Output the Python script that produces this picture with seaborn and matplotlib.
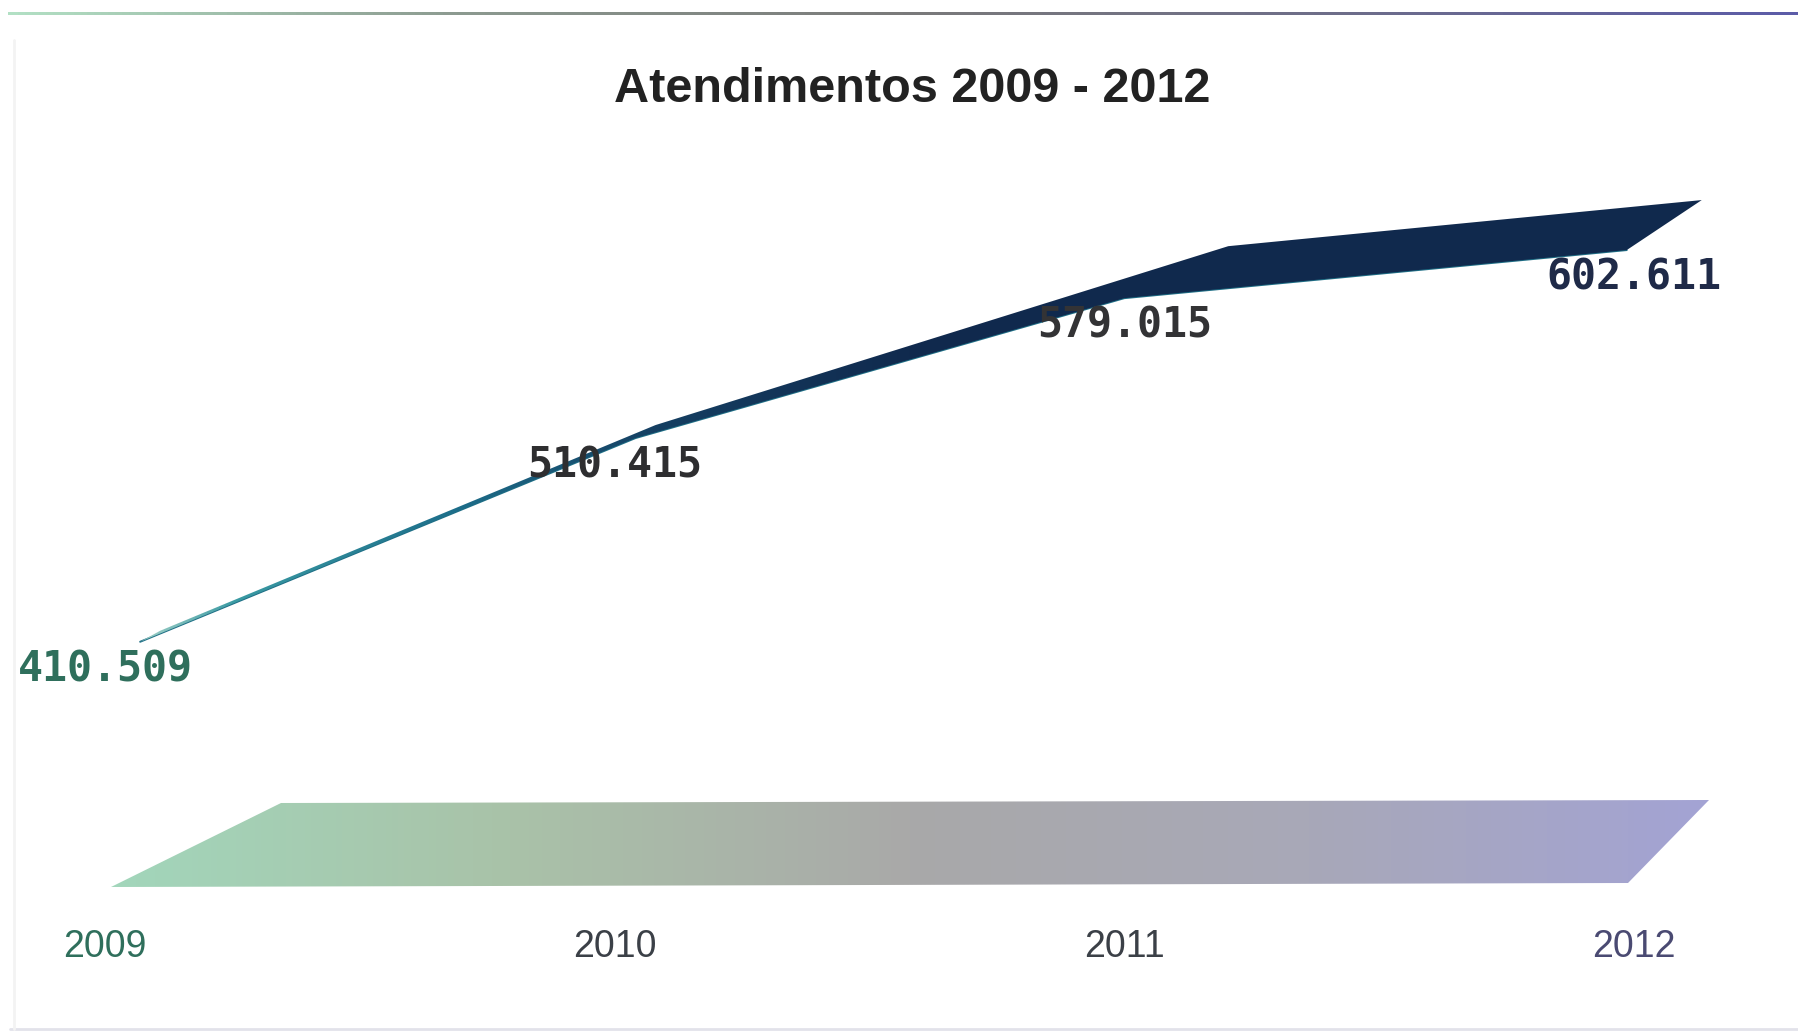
import numpy as np
import pandas as pd
import matplotlib
matplotlib.use('Agg')
import matplotlib.pyplot as plt
import seaborn as sns
from matplotlib.colors import LinearSegmentedColormap
from matplotlib.patches import Polygon
from matplotlib.lines import Line2D

# data
anos = ['2009', '2010', '2011', '2012']
atendimentos = [410509, 510415, 579015, 602611]

# colours of the texts
cor_rotulos = ['#2f6f5c', '#2e2e30', '#333335', '#1f2a48']
cor_anos = ['#2f6f5c', '#3b4047', '#3b4047', '#4a4a72']

# fake 3d look: shift of the ribbon front edge (categories) and depth (pixels)
x_shift = [0.069, 0.041, 0.0, -0.014]
depth_px = [(20, 11), (20, 13), (104, 52), (75, 50)]

sns.set_theme(style='white')
plt.rcParams['font.family'] = ['Liberation Sans', 'DejaVu Sans']

W, H = 1798, 1032
fig = plt.figure(figsize=(W / 100, H / 100), dpi=100)
fig.patch.set_facecolor('white')
ax = fig.add_axes([0, 0, 1, 1])
xlim = (-0.206, 3.322)
ylim = (219130, 725250)
ax.set_xlim(*xlim)
ax.set_ylim(*ylim)
ax.axis('off')

df = pd.DataFrame({'ano': anos, 'atendimentos': atendimentos})
df['pos'] = np.arange(len(df))
df['x_front'] = df['pos'] + np.array(x_shift)

to_data = ax.transData.inverted()


def gradient_fill(pts, cmap, zorder):
    x0, x1 = pts[:, 0].min(), pts[:, 0].max()
    y0, y1 = pts[:, 1].min(), pts[:, 1].max()
    im = ax.imshow(np.linspace(0, 1, 512)[None, :], extent=[x0, x1, y0, y1],
                   aspect='auto', cmap=cmap, origin='lower', zorder=zorder)
    clip = Polygon(pts, closed=True, facecolor='none', edgecolor='none',
                   transform=ax.transData)
    ax.add_patch(clip)
    im.set_clip_path(clip)


# floor (decoration, in pixels of the picture)
floor_px = np.array([(111, 887), (281, 803), (1709, 800), (1628, 883)], float)
floor = to_data.transform(np.column_stack([floor_px[:, 0], H - floor_px[:, 1]]))
floor_cmap = LinearSegmentedColormap.from_list(
    'chao', [(0, '#a2d6bb'), (0.25, '#a9c2a8'), (0.5, '#a9a9a9'),
             (0.75, '#a8a8b8'), (1, '#a3a3d4')])
gradient_fill(floor, floor_cmap, 1)

# ribbon line
sns.lineplot(data=df, x='x_front', y='atendimentos', ax=ax, color='#1f6f86',
             lw=1.4, zorder=2, sort=False)

front = df[['x_front', 'atendimentos']].to_numpy(float)
back = to_data.transform(ax.transData.transform(front) + np.array(depth_px, float))
ribbon = np.vstack([front, back[::-1]])
rib_cmap = LinearSegmentedColormap.from_list(
    'fita', [(0, '#9fcfc6'), (0.06, '#3a9aa3'), (0.2, '#1d6e8a'),
             (0.33, '#153f62'), (0.5, '#10294d'), (1, '#10294d')])
gradient_fill(ribbon, rib_cmap, 3)

ax.set_xlim(*xlim)
ax.set_ylim(*ylim)

# data labels
for i, row in df.iterrows():
    txt = f"{row['atendimentos']:,}".replace(',', '.')
    ax.annotate(txt, (row['pos'], row['atendimentos']), xytext=(0, -20),
                textcoords='offset points', ha='center', va='center',
                fontsize=30, fontweight='bold', family='DejaVu Sans Mono',
                color=cor_rotulos[i], zorder=5)

# category labels
for i, row in df.iterrows():
    px = ax.transData.transform((row['pos'], ylim[0]))[0]
    fig.text(px / W, 1 - 947 / H, row['ano'], ha='center', va='center',
             fontsize=27, color=cor_anos[i])

fig.text(912 / W, 1 - 90 / H, 'Atendimentos 2009 - 2012', ha='center',
         va='center', fontsize=35, fontweight='bold', color='#222222')

# top gradient rule and faint frame
top = fig.add_axes([8 / W, 1 - 15 / H, (W - 8) / W, 3 / H])
top_cmap = LinearSegmentedColormap.from_list(
    'topo', ['#b2e0c4', '#8c9a90', '#7a7a7a', '#6d6d8a', '#5c5ca8'])
top.imshow(np.linspace(0, 1, 256)[None, :], aspect='auto', cmap=top_cmap)
top.axis('off')
fig.add_artist(Line2D([10 / W, 1], [1 - 1029 / H] * 2, color='#e2e2ea', lw=2))
fig.add_artist(Line2D([14 / W] * 2, [1 - 1029 / H, 1 - 40 / H], color='#f3f3f3', lw=2))

fig.savefig('out.png', dpi=100)
